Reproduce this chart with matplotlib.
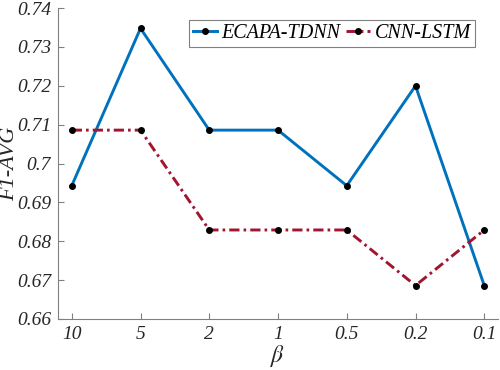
import matplotlib
matplotlib.use('Agg')
from matplotlib import pyplot as plt

betas = ['10', '5', '2', '1', '0.5', '0.2', '0.1']
ecapa = [0.6943, 0.7348, 0.7086, 0.7086, 0.6943, 0.7200, 0.6686]
cnn_lstm = [0.7086, 0.7086, 0.6829, 0.6829, 0.6829, 0.6686, 0.6829]

plt.rcParams['font.family'] = ['Liberation Serif', 'DejaVu Serif']
plt.rcParams['mathtext.fontset'] = 'stix'

fig = plt.figure(figsize=(5, 3.7), dpi=100)
ax = fig.add_axes([0.116, 0.138, 0.88, 0.84])

x = list(range(len(betas)))
ax.plot(x, ecapa, '-', color='#0072BD', lw=2.1, marker='o', ms=4,
        mfc='black', mec='black', label='ECAPA-TDNN')
ax.plot(x, cnn_lstm, '-.', color='#A2142F', lw=2.1, marker='o', ms=4,
        mfc='black', mec='black', label='CNN-LSTM', dashes=(3.5, 1.4, 0.9, 1.4))

ax.set_xlim(-0.2, 6.2)
ax.set_ylim(0.66, 0.74)
ax.set_xticks(x)
ax.set_xticklabels(betas)
yt = [0.66, 0.67, 0.68, 0.69, 0.70, 0.71, 0.72, 0.73, 0.74]
ax.set_yticks(yt)
ax.set_yticklabels(['%g' % v for v in yt])

for s in ['top', 'right']:
    ax.spines[s].set_visible(False)
for s in ['left', 'bottom']:
    ax.spines[s].set_color('#808080')
    ax.spines[s].set_linewidth(0.8)
ax.tick_params(direction='in', length=4, color='#808080', labelsize=14,
               labelcolor='#262626', pad=5)
for lab in ax.get_xticklabels() + ax.get_yticklabels():
    lab.set_fontstyle('italic')

ax.set_ylabel('F1-AVG', fontsize=16, style='italic', color='#262626', va='center')
ax.yaxis.set_label_coords(-0.11, 0.5)
ax.set_xlabel(r'$\beta$', fontsize=17, color='#262626', labelpad=0)

leg = ax.legend(loc='upper right', ncol=2, bbox_to_anchor=(0.97, 0.995),
                prop={'style': 'italic', 'size': 14.5}, fancybox=False,
                handlelength=1.2, handletextpad=0.2, columnspacing=0.3,
                borderpad=0.2, framealpha=1)
leg.get_frame().set_edgecolor('#808080')
leg.get_frame().set_linewidth(0.8)

fig.savefig('out.png', dpi=100)
